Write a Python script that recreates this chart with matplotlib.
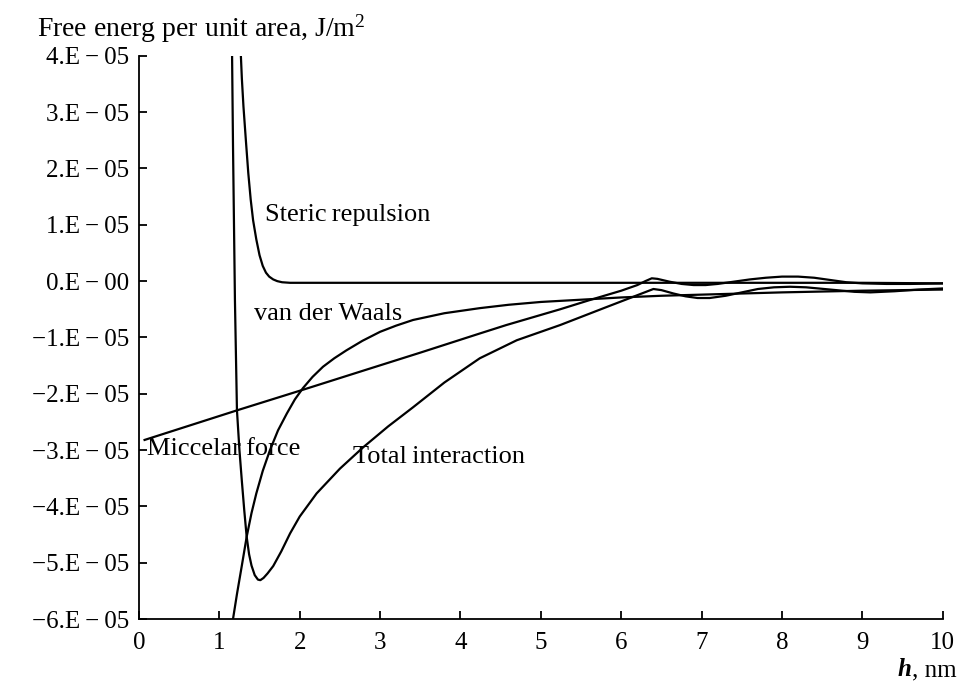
import matplotlib
matplotlib.use("Agg")
import matplotlib.pyplot as plt
import numpy as np

# Curves: h in nm, energy in units of 1E-05 J/m^2.
steric_h = [1.262, 1.28, 1.30, 1.33, 1.36, 1.39, 1.42, 1.46, 1.50, 1.54, 1.58, 1.62, 1.67, 1.72, 1.78, 1.88,
            3.0, 5.0, 7.0, 9.0, 10.0]
steric_e = [4.2, 3.6, 3.1, 2.5, 1.92, 1.45, 1.08, 0.74, 0.46, 0.27, 0.15, 0.08, 0.03, 0.0, -0.02, -0.03,
            -0.03, -0.03, -0.03, -0.03, -0.04]

vdw_h = [1.17, 1.22, 1.28, 1.34, 1.40, 1.46, 1.54, 1.63, 1.73, 1.84, 1.94, 2.04, 2.16, 2.29, 2.43, 2.58,
         2.78, 3.0, 3.2, 3.41, 3.8, 4.24, 4.6, 5.0, 5.5, 6.0, 6.5, 7.0, 8.0, 9.0, 10.0]
vdw_e = [-6.0, -5.55, -5.05, -4.54, -4.12, -3.77, -3.37, -3.0, -2.65, -2.35, -2.1, -1.9, -1.7, -1.52, -1.37, -1.23,
         -1.06, -0.9, -0.79, -0.69, -0.57, -0.48, -0.42, -0.37, -0.33, -0.29, -0.26, -0.24, -0.2, -0.17, -0.15]

micel_h = [0.07, 1.23, 2.06, 2.79, 3.5, 4.24, 4.57, 5.24, 5.6, 6.0, 6.2, 6.3, 6.38, 6.45, 6.6, 6.75, 6.9, 7.05,
           7.2, 7.4, 7.6, 7.8, 8.0, 8.2, 8.4, 8.6, 8.8, 9.0, 9.3, 9.6, 10.0]
micel_e = [-2.82, -2.29, -1.92, -1.59, -1.27, -0.93, -0.78, -0.5, -0.34, -0.17, -0.07, 0.0, 0.05, 0.04, -0.01, -0.05,
           -0.07, -0.07, -0.05, -0.01, 0.03, 0.06, 0.08, 0.08, 0.06, 0.02, -0.02, -0.04, -0.05, -0.05, -0.04]

total_h = [1.157, 1.17, 1.194, 1.219, 1.25, 1.28, 1.31, 1.34, 1.37, 1.40, 1.44, 1.48, 1.51, 1.55, 1.60, 1.67,
           1.77, 1.88, 2.0, 2.21, 2.5, 2.79, 3.1, 3.41, 3.8, 4.24, 4.7, 5.24, 5.8, 6.2, 6.4, 6.5, 6.65, 6.8,
           6.95, 7.1, 7.3, 7.5, 7.7, 7.9, 8.1, 8.3, 8.6, 8.9, 9.1, 9.4, 9.7, 10.0]
total_e = [4.2, 2.4, -0.34, -2.29, -3.0, -3.55, -4.07, -4.54, -4.85, -5.05, -5.22, -5.30, -5.31, -5.27, -5.19, -5.06,
           -4.8, -4.48, -4.18, -3.77, -3.33, -2.95, -2.58, -2.24, -1.8, -1.37, -1.05, -0.78, -0.47, -0.25, -0.14, -0.16,
           -0.22, -0.27, -0.3, -0.3, -0.26, -0.2, -0.14, -0.11, -0.1, -0.11, -0.15, -0.19, -0.2, -0.18, -0.15, -0.13]

x_ticks = [0, 1, 2, 3, 4, 5, 6, 7, 8, 9, 10]
y_ticks = [4, 3, 2, 1, 0, -1, -2, -3, -4, -5, -6]
y_labels = ["4.E\u2009\u2212\u200905", "3.E\u2009\u2212\u200905", "2.E\u2009\u2212\u200905",
            "1.E\u2009\u2212\u200905", "0.E\u2009\u2212\u200900", "\u22121.E\u2009\u2212\u200905",
            "\u22122.E\u2009\u2212\u200905", "\u22123.E\u2009\u2212\u200905", "\u22124.E\u2009\u2212\u200905",
            "\u22125.E\u2009\u2212\u200905", "\u22126.E\u2009\u2212\u200905"]

plt.rcParams["font.family"] = ["Liberation Serif", "DejaVu Serif"]
plt.rcParams["mathtext.fontset"] = "custom"
plt.rcParams["mathtext.rm"] = "Liberation Serif"
plt.rcParams["mathtext.it"] = "Liberation Serif:italic"

fig = plt.figure(figsize=(9.63, 6.81), dpi=100)
ax = fig.add_axes([0.1443, 0.091, 0.8347, 0.827])

scale = 1e-5
for hh, ee in [(steric_h, steric_e), (vdw_h, vdw_e), (micel_h, micel_e), (total_h, total_e)]:
    ax.plot(hh, np.array(ee) * scale, color="black", lw=1.6, solid_joinstyle="round")

ax.set_xlim(0, 10)
ax.set_ylim(-6 * scale, 4 * scale)
ax.set_xticks(x_ticks)
ax.set_xticklabels([str(t) for t in x_ticks])
ax.set_yticks(np.array(y_ticks) * scale)
ax.set_yticklabels(y_labels)
ax.tick_params(direction="in", length=6, width=1.3, labelsize=18)
ax.tick_params(axis="y", pad=7)
ax.tick_params(axis="x", pad=9)
ax.spines["top"].set_visible(False)
ax.spines["right"].set_visible(False)
for s in ("left", "bottom"):
    ax.spines[s].set_linewidth(1.3)

# Curve labels
lab = 19
ax.text(1.57, 1.17 * scale, "Steric\u2009repulsion", fontsize=lab, va="center", ha="left")
ax.text(1.43, -0.59 * scale, "van der Waals", fontsize=lab, va="center", ha="left")
ax.text(0.1, -2.98 * scale, "Miccelar\u2009force", fontsize=lab, va="center", ha="left")
ax.text(2.66, -3.13 * scale, "Total\u2009interaction", fontsize=lab, va="center", ha="left")

# Axis titles
fig.text(0.038, 0.946, "Free energ per unit area, J/m$^2$", fontsize=20, ha="left", va="baseline")
t = fig.text(0.993, 0.007, ", nm", fontsize=18, ha="right", va="baseline")
ax.annotate("h", xy=(0, 0), xycoords=t, ha="right", va="bottom", fontsize=18,
            fontweight="bold", style="italic", annotation_clip=False)

fig.savefig("out.png", dpi=100)
